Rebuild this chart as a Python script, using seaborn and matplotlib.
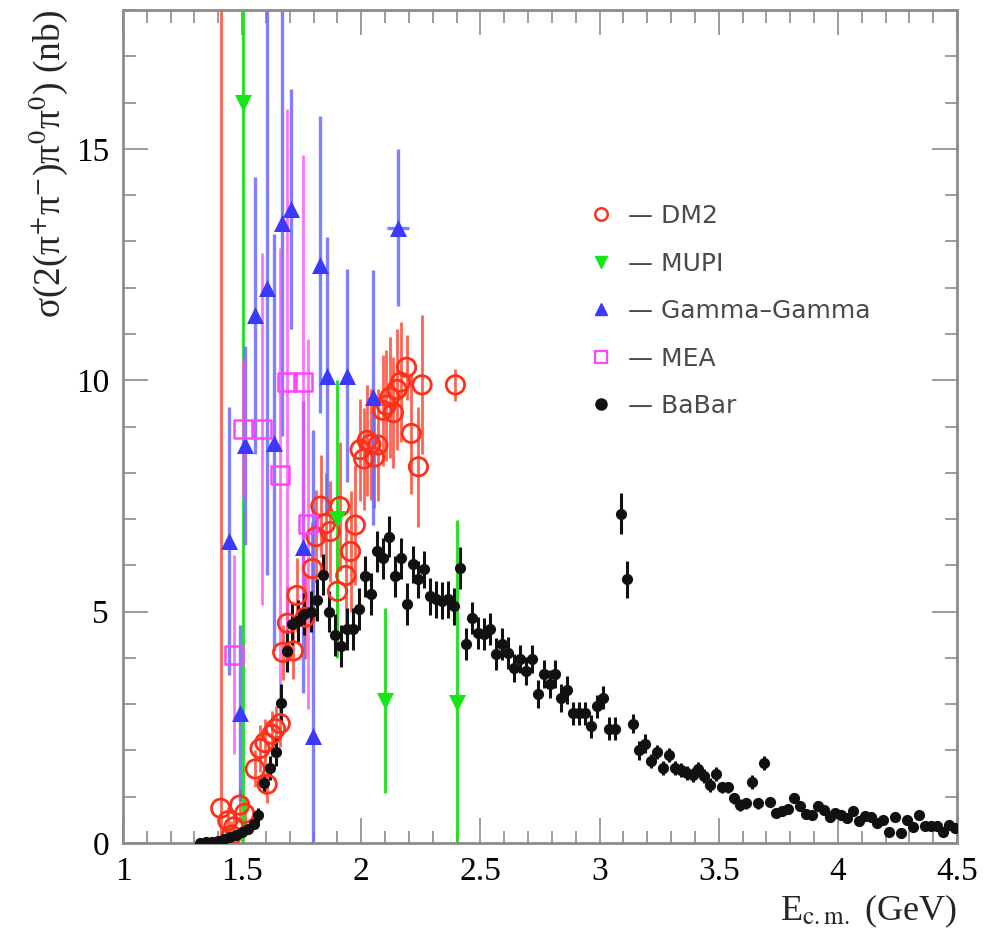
import matplotlib
matplotlib.use("Agg")
import matplotlib.pyplot as plt
import seaborn as sns
from matplotlib.lines import Line2D
from matplotlib.ticker import MultipleLocator

# ---- e+e- -> 2(pi+pi-)pi0pi0 cross section measurements ----
# DM2
dm2_E = [1.41, 1.44, 1.455, 1.465, 1.49, 1.51, 1.555, 1.575, 1.595, 1.605,
         1.625, 1.64, 1.66, 1.67, 1.69, 1.715, 1.73, 1.765, 1.795, 1.81,
         1.83, 1.85, 1.87, 1.90, 1.91, 1.935, 1.955, 1.975, 1.995, 2.01,
         2.025, 2.04, 2.055, 2.07, 2.09, 2.105, 2.12, 2.135, 2.15, 2.165,
         2.19, 2.21, 2.24, 2.255, 2.395]
dm2_sig = [0.75, 0.48, 0.17, 0.35, 0.82, 0.64, 1.60, 2.04, 2.17, 1.27,
           2.35, 2.47, 2.58, 4.12, 4.75, 4.15, 5.35, 4.88, 5.93, 6.62,
           7.28, 6.90, 6.73, 5.44, 7.27, 5.78, 6.30, 6.87, 8.50, 8.30,
           8.70, 8.62, 8.34, 8.60, 9.35, 9.46, 9.63, 9.30, 9.80, 9.96,
           10.28, 8.85, 8.13, 9.90, 9.90]
dm2_err = [20.0, 0.30, 0.30, 0.30, 0.35, 0.30, 0.40, 0.50, 0.50, 0.40,
           0.50, 0.50, 0.50, 0.60, 0.80, 0.60, 0.80, 0.90, 1.00, 1.00,
           1.10, 1.10, 1.10, 1.10, 1.40, 1.20, 1.30, 1.30, 1.10, 1.10,
           1.20, 1.20, 1.10, 1.20, 1.20, 1.20, 1.30, 1.20, 1.30, 1.30,
           0.70, 1.30, 1.30, 1.50, 0.35]

# MUPI
mupi_E = [1.505, 1.898, 2.10, 2.40]
mupi_sig = [16.0, 7.0, 3.07, 3.03]
mupi_err = [20.0, 3.0, 2.0, 3.95]

# Gamma-Gamma
gg_E = [1.445, 1.49, 1.51, 1.554, 1.604, 1.634, 1.667, 1.705, 1.755, 1.797,
        1.827, 1.856, 1.94, 2.05, 2.154]
gg_sig = [6.52, 2.80, 8.60, 11.40, 12.00, 8.65, 13.40, 13.70, 6.40, 2.32,
          12.50, 10.10, 10.10, 9.63, 13.30]
gg_err = [2.90, 1.90, 2.15, 3.00, 6.20, 4.50, 4.60, 2.60, 3.15, 6.60,
          3.20, 3.00, 2.30, 2.75, 1.70]
gg_Eerr = [0, 0, 0, 0, 0, 0, 0, 0, 0, 0, 0, 0, 0, 0, 0.045]

# MEA
mea_E = [1.466, 1.504, 1.583, 1.66, 1.69, 1.755, 1.775]
mea_sig = [4.07, 8.95, 8.95, 7.96, 9.96, 9.96, 6.90]
mea_err = [2.15, 1.50, 3.80, 4.90, 5.90, 4.90, 4.00]

# BaBar
babar_E = [1.325, 1.35, 1.375, 1.40, 1.425, 1.45, 1.475, 1.50, 1.525, 1.55,
           1.565, 1.59, 1.615, 1.64, 1.665, 1.69, 1.71, 1.735, 1.76, 1.79,
           1.815, 1.84, 1.865, 1.89, 1.915, 1.94, 1.965, 1.99, 2.015, 2.04,
           2.065, 2.09, 2.115, 2.14, 2.165, 2.19, 2.215, 2.24, 2.265, 2.29,
           2.315, 2.34, 2.365, 2.39, 2.415, 2.44, 2.465, 2.49, 2.515, 2.54,
           2.565, 2.59, 2.615, 2.64, 2.665, 2.69, 2.715, 2.74, 2.765, 2.79,
           2.815, 2.84, 2.865, 2.89, 2.915, 2.94, 2.965, 2.99, 3.015, 3.04,
           3.065, 3.09, 3.115, 3.14, 3.165, 3.19, 3.215, 3.24, 3.265, 3.29,
           3.315, 3.34, 3.365, 3.39, 3.415, 3.44, 3.465, 3.49, 3.515, 3.54,
           3.565, 3.59, 3.615, 3.64, 3.665, 3.69, 3.715, 3.74, 3.765, 3.79,
           3.815, 3.84, 3.865, 3.89, 3.915, 3.94, 3.965, 3.99, 4.015, 4.04,
           4.065, 4.09, 4.115, 4.14, 4.165, 4.19, 4.215, 4.24, 4.265, 4.29,
           4.315, 4.34, 4.365, 4.39, 4.415, 4.44, 4.465, 4.49]
babar_sig = [0.01, 0.02, 0.03, 0.05, 0.08, 0.12, 0.17, 0.24, 0.30, 0.40,
             0.60, 1.29, 1.62, 1.96, 3.03, 4.15, 4.73, 4.80, 4.95, 5.00,
             5.25, 5.80, 5.00, 4.50, 4.26, 4.62, 4.62, 5.05, 5.76, 5.38,
             6.30, 6.15, 6.62, 5.76, 6.15, 5.16, 6.02, 5.70, 5.91, 5.33,
             5.27, 5.23, 5.27, 5.12, 5.94, 4.30, 4.86, 4.54, 4.52, 4.62,
             4.09, 4.30, 4.10, 3.78, 3.98, 3.72, 3.98, 3.22, 3.66, 3.44,
             3.66, 3.14, 3.31, 2.80, 2.80, 2.80, 2.52, 2.95, 3.14, 2.47,
             2.47, 7.12, 5.70, 2.58, 2.00, 2.15, 1.78, 1.96, 1.63, 1.91,
             1.63, 1.57, 1.51, 1.46, 1.59, 1.44, 1.25, 1.50, 1.20, 1.20,
             0.97, 0.82, 0.86, 1.31, 0.86, 1.72, 0.88, 0.65, 0.69, 0.73,
             0.97, 0.80, 0.62, 0.60, 0.80, 0.71, 0.56, 0.65, 0.60, 0.54,
             0.69, 0.47, 0.58, 0.56, 0.43, 0.49, 0.24, 0.56, 0.22, 0.49,
             0.34, 0.60, 0.37, 0.37, 0.37, 0.24, 0.39, 0.32]
babar_err = [0.01, 0.01, 0.02, 0.02, 0.03, 0.04, 0.05, 0.06, 0.08, 0.10,
             0.15, 0.20, 0.25, 0.30, 0.40, 0.45, 0.45, 0.45, 0.45, 0.45,
             0.45, 0.45, 0.45, 0.45, 0.45, 0.45, 0.45, 0.45, 0.45, 0.45,
             0.45, 0.45, 0.45, 0.45, 0.45, 0.45, 0.40, 0.40, 0.40, 0.40,
             0.40, 0.40, 0.40, 0.40, 0.45, 0.35, 0.35, 0.35, 0.35, 0.35,
             0.35, 0.35, 0.35, 0.30, 0.30, 0.30, 0.30, 0.30, 0.30, 0.30,
             0.30, 0.30, 0.30, 0.25, 0.25, 0.25, 0.25, 0.25, 0.25, 0.25,
             0.25, 0.45, 0.40, 0.20, 0.20, 0.20, 0.15, 0.15, 0.15, 0.15,
             0.15, 0.15, 0.15, 0.15, 0.15, 0.15, 0.15, 0.15, 0.12, 0.12,
             0.12, 0.12, 0.12, 0.15, 0.12, 0.15, 0.10, 0.10, 0.10, 0.10,
             0.10, 0.10, 0.10, 0.10, 0.10, 0.10, 0.10, 0.10, 0.10, 0.10,
             0.10, 0.10, 0.10, 0.10, 0.10, 0.10, 0.10, 0.10, 0.10, 0.10,
             0.10, 0.10, 0.10, 0.10, 0.10, 0.10, 0.10, 0.10]

x_ticks = [1, 1.5, 2, 2.5, 3, 3.5, 4, 4.5]
x_ticklabels = ["1", "1.5", "2", "2.5", "3", "3.5", "4", "4.5"]
y_ticks = [0, 5, 10, 15]
y_ticklabels = ["0", "5", "10", "15"]

RED = "#ff3019"
GREEN = "#16e616"
BLUE = "#3a3aff"
BLUE_BAR = "#6a6aff"
MAGENTA = "#ff44ff"
BLACK = "#111111"
FRAME = "#8c8c8c"

sns.set_theme(style="ticks")
plt.rcParams["font.family"] = ["Liberation Serif", "DejaVu Serif"]
plt.rcParams["mathtext.fontset"] = "stix"

fig = plt.figure(figsize=(9.85, 9.46), dpi=100)
ax = fig.add_axes([123 / 985, 1 - 843 / 946, 834 / 985, 833 / 946])

# error bars
ax.errorbar(dm2_E, dm2_sig, yerr=dm2_err, fmt="none", ecolor=RED,
            elinewidth=2.0, alpha=0.75, capsize=0, zorder=2)
ax.errorbar(mupi_E, mupi_sig, yerr=mupi_err, fmt="none", ecolor=GREEN,
            elinewidth=2.0, capsize=0, zorder=2)
ax.errorbar(gg_E, gg_sig, yerr=gg_err, xerr=gg_Eerr, fmt="none",
            ecolor=BLUE_BAR, elinewidth=2.4, alpha=0.85, capsize=0, zorder=2)
ax.errorbar(mea_E, mea_sig, yerr=mea_err, fmt="none", ecolor=MAGENTA,
            elinewidth=2.0, alpha=0.75, capsize=0, zorder=2)
ax.errorbar(babar_E, babar_sig, yerr=babar_err, fmt="none", ecolor=BLACK,
            elinewidth=2.2, capsize=0, zorder=3)

# markers
sns.scatterplot(x=dm2_E, y=dm2_sig, marker="o", s=175, color=RED,
                facecolor="none", edgecolor=RED, linewidth=2.0, ax=ax, zorder=4)
sns.scatterplot(x=mupi_E, y=mupi_sig, marker="v", s=150, color=GREEN,
                edgecolor=GREEN, linewidth=0, ax=ax, zorder=4)
sns.scatterplot(x=gg_E, y=gg_sig, marker="^", s=150, color=BLUE,
                edgecolor=BLUE, linewidth=0, ax=ax, zorder=4)
sns.scatterplot(x=mea_E, y=mea_sig, marker="s", s=165, color=MAGENTA,
                facecolor="none", edgecolor=MAGENTA, linewidth=1.8, ax=ax,
                zorder=4)
sns.scatterplot(x=babar_E, y=babar_sig, marker="o", s=65, color=BLACK,
                edgecolor=BLACK, linewidth=0, ax=ax, zorder=5)

ax.set_xlim(1, 4.5)
ax.set_ylim(0, 18)
ax.set_xticks(x_ticks)
ax.set_xticklabels(x_ticklabels)
ax.set_yticks(y_ticks)
ax.set_yticklabels(y_ticklabels)
ax.xaxis.set_minor_locator(MultipleLocator(0.1))
ax.yaxis.set_minor_locator(MultipleLocator(1))
ax.tick_params(which="both", direction="in", top=True, right=True,
               color=FRAME, width=1.2, labelsize=24, labelcolor="black")
ax.tick_params(which="major", length=18, pad=10)
ax.tick_params(which="minor", length=9)
for sp in ax.spines.values():
    sp.set_color(FRAME)
    sp.set_linewidth(2.0)

ax.set_xlabel("E$_{\\rm c.m.}$ (GeV)", fontsize=26, loc="right", labelpad=4)
ax.set_ylabel("\u03c3(2(\u03c0$^{+}$\u03c0$^{-}$)\u03c0$^{0}$\u03c0$^{0}$) (nb)",
              fontsize=27, loc="top", labelpad=4)

handles = [
    Line2D([], [], ls="none", marker="o", ms=9, mfc="none", mec=RED, mew=1.8),
    Line2D([], [], ls="none", marker="v", ms=9, color=GREEN),
    Line2D([], [], ls="none", marker="^", ms=9, color=BLUE),
    Line2D([], [], ls="none", marker="s", ms=8, mfc="none", mec=MAGENTA, mew=1.6),
    Line2D([], [], ls="none", marker="o", ms=8, color=BLACK),
]
labels = ["\u2014 DM2", "\u2014 MUPI", "\u2014 Gamma\u2013Gamma",
          "\u2014 MEA", "\u2014 BaBar"]
leg = ax.legend(handles, labels, loc="upper left",
                bbox_to_anchor=(0.531, 0.794), frameon=False,
                handlelength=1.0, handletextpad=0.6, labelspacing=0.94,
                prop={"family": "DejaVu Sans", "size": 18})
for t in leg.get_texts():
    t.set_color("#4a4a4a")

fig.savefig("out.png", dpi=100, facecolor="white")
